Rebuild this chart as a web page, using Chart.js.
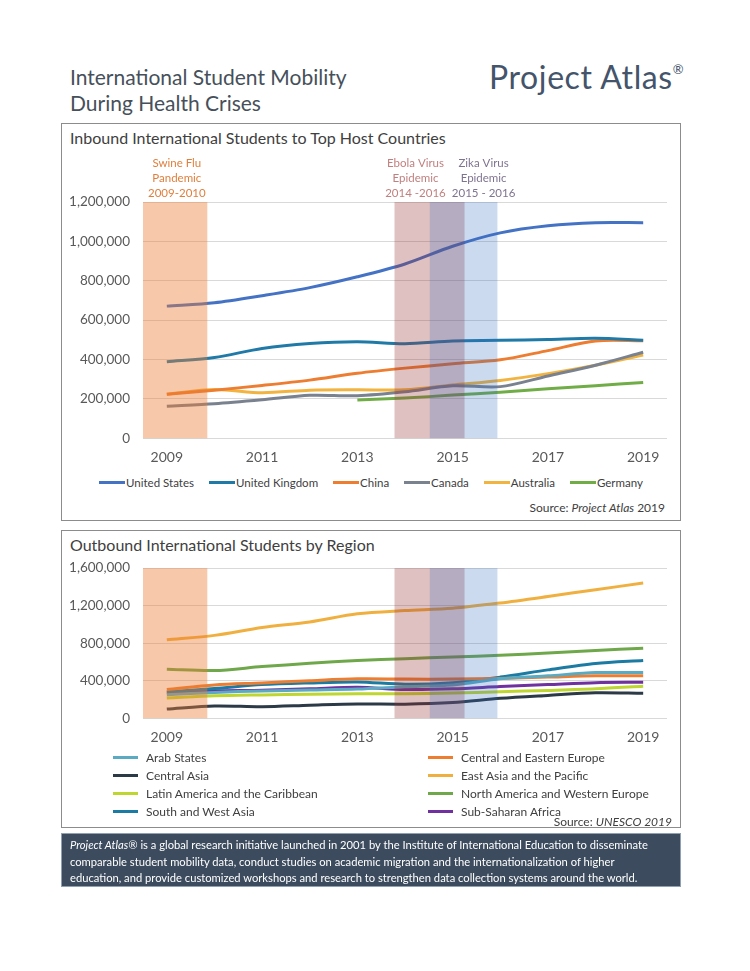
<!DOCTYPE html>
<html>
<head>
<meta charset="utf-8">
<script src="https://cdn.jsdelivr.net/npm/chart.js@4.4.0/dist/chart.umd.min.js"></script>
<style>
  body { margin: 0; background: #fff; font-family: Lato, "Noto Sans", sans-serif; color: #404040; }
  #page { position: relative; width: 750px; height: 971px; overflow: hidden; }
  .abs { position: absolute; }
  #title { left: 70px; top: 64px; font-size: 21px; line-height: 26px; color: #46505a; }
  #logo { left: 489px; top: 57px; font-size: 32px; color: #44546a; letter-spacing: 0.6px; }
  #logo sup { font-size: 13px; vertical-align: 15px; }
  .box { left: 61px; width: 618px; border: 1.5px solid #8c8c8c; }
  .boxTitle { left: 70px; font-size: 16px; color: #404040; }
  .source { font-size: 12px; color: #404040; }
  .legend1 { left: 61px; width: 620px; top: 476px; display: flex; justify-content: center; font-size: 11.5px; color: #404040; }
  .legend1 .item { display: flex; align-items: center; margin: 0 7.5px; }
  .sample { display: inline-block; width: 26px; height: 3px; margin-right: 1px; }
  .legend2 { left: 113px; top: 748px; display: grid; grid-template-columns: 315px 240px; grid-auto-rows: 18px; font-size: 12px; color: #404040; }
  .legend2 .item { display: flex; align-items: center; }
  .legend2 .sample { width: 25px; margin-right: 8px; }
  #footer { left: 61px; top: 833px; width: 610px; height: 49px; padding: 3px 0 0 8px; background: #3c4c5e; border: 1px solid #8fa0b3;
            color: #fff; font-size: 11.2px; line-height: 16.5px; white-space: nowrap; }
</style>
</head>
<body>
<div id="page">
  <div class="abs" id="title">International Student Mobility<br>During Health Crises</div>
  <div class="abs" id="logo">Project Atlas<sup>®</sup></div>

  <div class="abs box" style="top:123px;height:396px;"></div>
  <div class="abs boxTitle" style="top:128px;">Inbound International Students to Top Host Countries</div>
  <div class="abs" style="left:61px;top:150px;width:620px;height:324px;"><canvas id="inbound"></canvas></div>
  <div class="abs legend1" id="legendIn"></div>
  <div class="abs source" style="right:85px;top:500px;">Source: <i>Project Atlas</i> 2019</div>

  <div class="abs box" style="top:530px;height:296px;"></div>
  <div class="abs boxTitle" style="top:535px;">Outbound International Students by Region</div>
  <div class="abs" style="left:61px;top:547px;width:620px;height:205px;"><canvas id="outbound"></canvas></div>
  <div class="abs legend2" id="legendOut"></div>
  <div class="abs source" style="right:78px;top:814px;">Source: <i>UNESCO 2019</i></div>

  <div class="abs" id="footer"><i>Project Atlas®</i> is a global research initiative launched in 2001 by the Institute of International Education to disseminate<br>comparable student mobility data, conduct studies on academic migration and the internationalization of higher<br>education, and provide customized workshops and research to strengthen data collection systems around the world.</div>
</div>

<script>
// years on the x axis
const years = ['2009', '2010', '2011', '2012', '2013', '2014', '2015', '2016', '2017', '2018', '2019'];
const firstYear = 2009;

// inbound students, top host countries
const unitedStates = [671000, 688000, 724000, 765000, 820000, 885000, 975000, 1043000, 1079000, 1095000, 1095000];
const unitedKingdom = [388000, 410000, 456000, 481000, 490000, 480000, 494000, 497000, 502000, 508000, 498000];
const china = [223000, 244000, 268000, 295000, 330000, 356000, 378000, 398000, 445000, 494000, 495000];
const canada = [162000, 175000, 195000, 218000, 216000, 236000, 266000, 262000, 316000, 371000, 437000];
const australia = [223000, 247000, 231000, 244000, 246000, 246000, 270000, 293000, 328000, 371000, 423000];
const germany = [null, null, null, null, 194000, 204000, 219000, 234000, 251000, 267000, 283000];

// outbound students by region
const arabStates = [250000, 275000, 290000, 300000, 310000, 335000, 355000, 420000, 452000, 486000, 486000];
const centralEasternEurope = [306000, 355000, 376000, 400000, 420000, 417000, 417000, 424000, 438000, 452000, 452000];
const centralAsia = [97000, 130000, 122000, 138000, 152000, 150000, 167000, 212000, 243000, 271000, 265000];
const eastAsiaPacific = [835000, 883000, 967000, 1026000, 1113000, 1147000, 1172000, 1228000, 1297000, 1370000, 1440000];
const latinAmerica = [216000, 238000, 248000, 256000, 260000, 260000, 268000, 282000, 296000, 313000, 341000];
const northAmericaWesternEurope = [522000, 508000, 550000, 585000, 615000, 635000, 652000, 670000, 694000, 722000, 746000];
const southWestAsia = [282000, 317000, 358000, 376000, 386000, 362000, 379000, 438000, 515000, 584000, 616000];
const subSaharanAfrica = [271000, 292000, 299000, 313000, 330000, 306000, 313000, 337000, 358000, 379000, 383000];

// health crisis periods (in years)
const bandStart = [2008.5, 2013.78, 2014.52];
const bandEnd = [2009.85, 2015.25, 2015.94];
const bandLabels = [['Swine Flu', 'Pandemic', '2009-2010'], ['Ebola Virus', 'Epidemic', '2014 -2016'], ['Zika Virus', 'Epidemic', '2015 - 2016']];

// styles
const bandFill = ['rgba(237,125,49,0.42)', 'rgba(153,51,51,0.3)', 'rgba(52,108,192,0.25)'];
const bandText = ['#e07f3c', '#c0807f', '#7f7490'];
const bandTextAt = [2009.21, 2014.22, 2015.65];

const bandPlugin = {
    id: 'bands',
    afterDatasetsDraw(chart, args, opts) {
        const { ctx, chartArea, scales } = chart;
        const x = scales.x;
        ctx.save();
        bandStart.forEach((s, i) => {
            const x0 = x.getPixelForValue(s - firstYear);
            const x1 = x.getPixelForValue(bandEnd[i] - firstYear);
            ctx.fillStyle = bandFill[i];
            ctx.fillRect(x0, chartArea.top, x1 - x0, chartArea.bottom - chartArea.top);
        });
        if (opts.labels) {
            ctx.font = '11.5px Lato';
            ctx.textAlign = 'center';
            ctx.textBaseline = 'middle';
            bandLabels.forEach((lines, i) => {
                ctx.fillStyle = bandText[i];
                const cx = x.getPixelForValue(bandTextAt[i] - firstYear);
                lines.forEach((t, j) => ctx.fillText(t, cx, chartArea.top - 39 + j * 15));
            });
        }
        ctx.restore();
    }
};

function lineSet(label, data, color) {
    return { label: label, data: data, borderColor: color, backgroundColor: color,
             borderWidth: 3, pointRadius: 0, tension: 0.3, spanGaps: false };
}

function makeOptions(max, step, pad, showBandLabels) {
    return {
        responsive: true,
        maintainAspectRatio: false,
        animation: false,
        layout: { padding: pad },
        plugins: { legend: { display: false }, tooltip: { enabled: false }, bands: { labels: showBandLabels } },
        scales: {
            x: {
                offset: true,
                grid: { display: false },
                border: { display: false },
                ticks: {
                    autoSkip: false, maxRotation: 0, padding: 3,
                    color: '#595959', font: { family: 'Lato', size: 14 },
                    callback: function (v, i) { return i % 2 === 0 ? this.getLabelForValue(v) : ''; }
                }
            },
            y: {
                min: 0, max: max,
                afterFit: function (scale) { scale.width = 82; },
                grid: { color: '#d9d9d9', drawTicks: false },
                border: { display: false },
                ticks: {
                    stepSize: step, padding: 13,
                    color: '#595959', font: { family: 'Lato', size: 13.5 },
                    callback: v => v.toLocaleString('en-US')
                }
            }
        }
    };
}

function htmlLegend(chart, id) {
    const box = document.getElementById(id);
    chart.data.datasets.forEach(ds => {
        const item = document.createElement('div');
        item.className = 'item';
        const s = document.createElement('span');
        s.className = 'sample';
        s.style.background = ds.borderColor;
        item.appendChild(s);
        item.appendChild(document.createTextNode(ds.label));
        box.appendChild(item);
    });
}

document.fonts.ready.then(function () {
    const inbound = new Chart(document.getElementById('inbound'), {
        type: 'line',
        data: {
            labels: years,
            datasets: [
                lineSet('United States', unitedStates, '#4472c4'),
                lineSet('United Kingdom', unitedKingdom, '#1f7aa8'),
                lineSet('China', china, '#ed7d31'),
                lineSet('Canada', canada, '#7a8290'),
                lineSet('Australia', australia, '#f2b440'),
                lineSet('Germany', germany, '#70ad47')
            ]
        },
        options: makeOptions(1200000, 200000, { top: 52, right: 14, bottom: 5, left: 0 }, true),
        plugins: [bandPlugin]
    });
    htmlLegend(inbound, 'legendIn');

    const outbound = new Chart(document.getElementById('outbound'), {
        type: 'line',
        data: {
            labels: years,
            datasets: [
                lineSet('Arab States', arabStates, '#5aabc2'),
                lineSet('Central and Eastern Europe', centralEasternEurope, '#ed7d31'),
                lineSet('Central Asia', centralAsia, '#2c3a47'),
                lineSet('East Asia and the Pacific', eastAsiaPacific, '#f0b040'),
                lineSet('Latin America and the Caribbean', latinAmerica, '#bfd630'),
                lineSet('North America and Western Europe', northAmericaWesternEurope, '#6fa84a'),
                lineSet('South and West Asia', southWestAsia, '#1b7ba3'),
                lineSet('Sub-Saharan Africa', subSaharanAfrica, '#7030a0')
            ]
        },
        options: makeOptions(1600000, 400000, { top: 5, right: 14, bottom: 3, left: 0 }, false),
        plugins: [bandPlugin]
    });
    htmlLegend(outbound, 'legendOut');
});
</script>
</body>
</html>
